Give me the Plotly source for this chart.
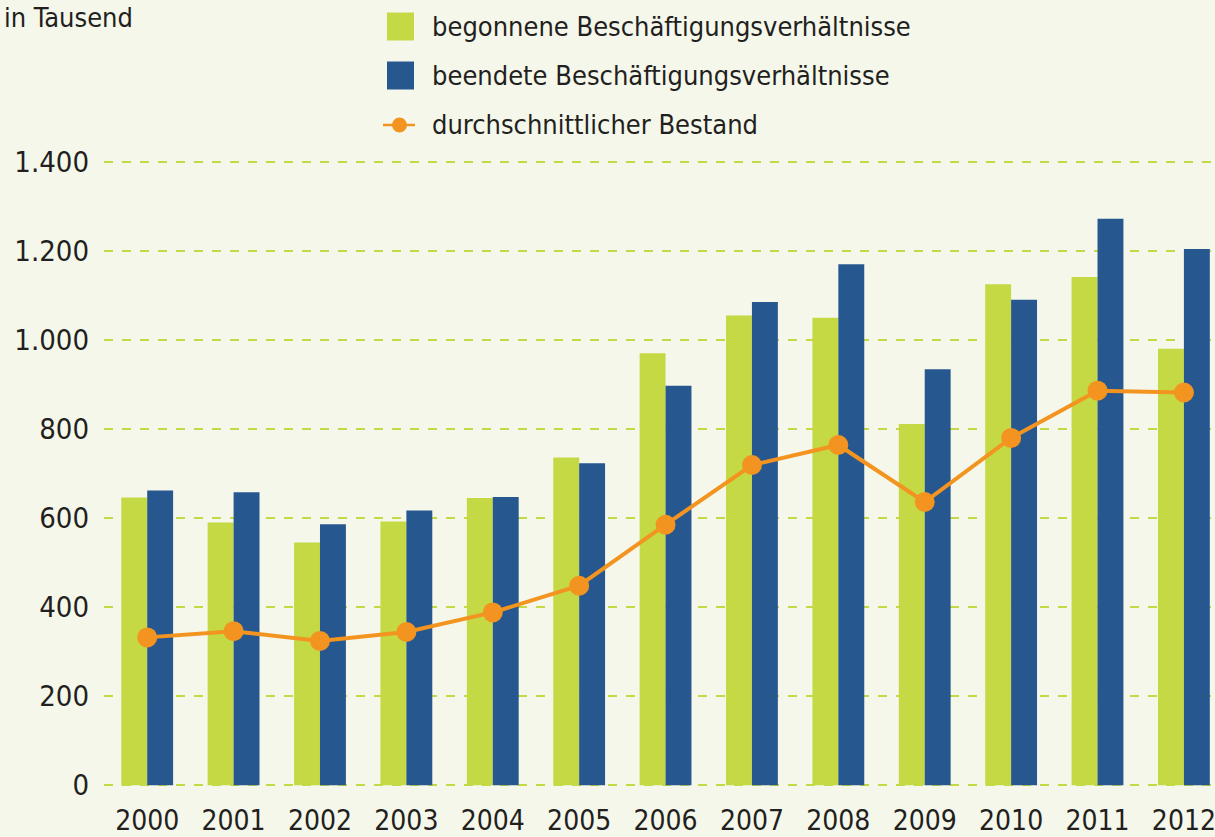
import plotly.graph_objects as go

years = ["2000", "2001", "2002", "2003", "2004", "2005", "2006",
         "2007", "2008", "2009", "2010", "2011", "2012"]
begonnene = [646, 590, 545, 592, 645, 736, 970, 1055, 1050, 811, 1125, 1141, 980]
beendete = [662, 658, 586, 617, 647, 723, 897, 1085, 1170, 934, 1090, 1272, 1204]
bestand = [332, 346, 324, 344, 388, 448, 585, 719, 764, 636, 780, 886, 882]

names = ["begonnene Beschäftigungsverhältnisse",
         "beendete Beschäftigungsverhältnisse",
         "durchschnittlicher Bestand"]
unit_label = "in Tausend"

GREEN = "#C5D944"
BLUE = "#27578F"
ORANGE = "#F39420"
BG = "#F5F7EB"
TEXT = "#231F20"
FONT = "DejaVu Sans Condensed, DejaVu Sans, sans-serif"

W, H = 1215, 837
# y range padded slightly so the 0 and 1.400 grid lines are drawn
YMIN, YMAX = -4, 1404
PXU = 623 / 1400.0
T = int(round(162 - (YMAX - 1400) * PXU))
B = int(round(52 - (0 - YMIN) * PXU))
L, R = 104, 0
PW, PH = W - L - R, H - T - B


def px2x(px):
    return (px - L) / PW


def px2y(py):
    return (H - B - py) / PH


fig = go.Figure()
fig.add_trace(go.Bar(x=years, y=begonnene, name=names[0], marker_color=GREEN,
                     marker_line_width=0, showlegend=False))
fig.add_trace(go.Bar(x=years, y=beendete, name=names[1], marker_color=BLUE,
                     marker_line_width=0, showlegend=False))
fig.add_trace(go.Scatter(x=years, y=bestand, name=names[2], mode="lines+markers",
                         line=dict(color=ORANGE, width=4),
                         marker=dict(color=ORANGE, size=20), showlegend=False))

# manual legend (large swatches)
shapes = []
annotations = []
rows = [(GREEN, 26.5), (BLUE, 75.5)]
for color, cy in rows:
    shapes.append(dict(type="rect", xref="paper", yref="paper",
                       x0=px2x(387), x1=px2x(414), y0=px2y(cy - 14), y1=px2y(cy + 14),
                       fillcolor=color, line_width=0))
cy3 = 125
shapes.append(dict(type="line", xref="paper", yref="paper",
                   x0=px2x(383), x1=px2x(415), y0=px2y(cy3), y1=px2y(cy3),
                   line=dict(color=ORANGE, width=2.5)))
shapes.append(dict(type="circle", xref="paper", yref="paper",
                   x0=px2x(392), x1=px2x(407), y0=px2y(cy3 - 7.5), y1=px2y(cy3 + 7.5),
                   fillcolor=ORANGE, line_width=0))
for name, cy in zip(names, [26.5, 75.5, 125]):
    annotations.append(dict(text=name, xref="paper", yref="paper",
                            x=px2x(430), y=px2y(cy), xanchor="left", yanchor="middle",
                            showarrow=False, font=dict(size=27, color=TEXT, family=FONT)))
annotations.append(dict(text=unit_label, xref="paper", yref="paper",
                        x=px2x(2), y=px2y(0), xanchor="left", yanchor="top",
                        showarrow=False, font=dict(size=27, color=TEXT, family=FONT)))

fig.update_layout(
    width=W, height=H,
    margin=dict(l=L, r=R, t=T, b=B, pad=0),
    paper_bgcolor=BG, plot_bgcolor=BG,
    barmode="group", bargap=0.4, bargroupgap=0,
    separators=",.",
    font=dict(family=FONT, color=TEXT),
    shapes=shapes, annotations=annotations,
    xaxis=dict(type="category", range=[-0.5, 12.36], showgrid=False, zeroline=False,
               showline=False, ticks="", tickfont=dict(size=28, color=TEXT),
               ticklabelstandoff=14),
    yaxis=dict(range=[YMIN, YMAX], tickvals=list(range(0, 1401, 200)), tickformat=",d",
               showgrid=True, gridcolor=GREEN, griddash="dash", gridwidth=1.5,
               zeroline=False, showline=False, ticks="",
               tickfont=dict(size=29, color=TEXT), ticklabelstandoff=14),
)

fig.write_html("out.html",
               config={"displayModeBar": False},
               post_script="document.body.style.margin='0';"
                           "document.body.style.overflow='hidden';")
